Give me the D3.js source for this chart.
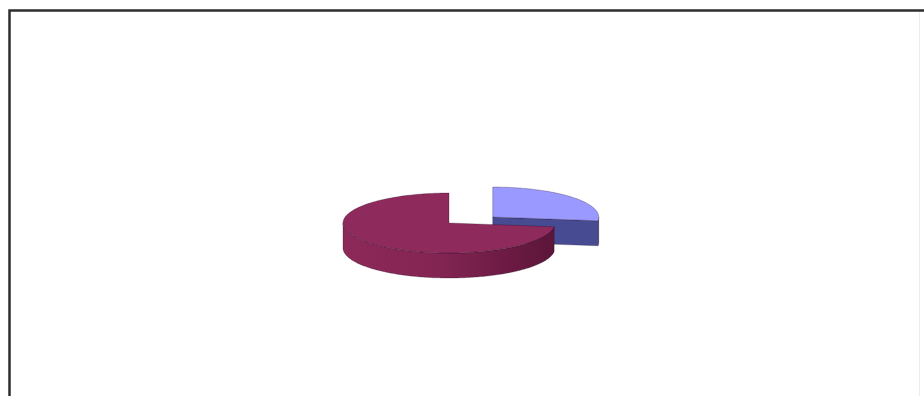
<!DOCTYPE html>
<html>
<head>
<meta charset="utf-8">
<script src="https://cdn.jsdelivr.net/npm/d3@7"></script>
<style>
  html, body { margin: 0; padding: 0; background: #fff; }
  svg { display: block; }
</style>
</head>
<body>
<svg></svg>
<script>
// slice data, clockwise from 12 o'clock
var categories = ["Series A", "Series B"];
var values = [27, 73];
var exploded = [true, false];

// size of the picture
var svgWidth = 924, svgHeight = 396;

// pie geometry
var cx = 449, cy = 223;
var rx = 106, ry = 30, depth = 25;
var explodeX = 0.55, explodeY = 0.3;

var topColors = ["#9999ff", "#8f2a5c"];
var sideColors = ["#4a4e98", "url(#maroonSide)"];
var faceColors = ["#474b92", "#6e1c45"];

var svg = d3.select("svg")
    .attr("width", svgWidth)
    .attr("height", svgHeight);

// gradient for the curved side of the big slice
var grad = svg.append("defs").append("linearGradient")
    .attr("id", "maroonSide")
    .attr("gradientUnits", "userSpaceOnUse")
    .attr("x1", cx - rx).attr("x2", cx + rx)
    .attr("y1", 0).attr("y2", 0);
grad.append("stop").attr("offset", "0%").attr("stop-color", "#8c2959");
grad.append("stop").attr("offset", "45%").attr("stop-color", "#832553");
grad.append("stop").attr("offset", "80%").attr("stop-color", "#6a1a42");
grad.append("stop").attr("offset", "100%").attr("stop-color", "#5c1539");

// chart frame
svg.append("path")
    .attr("d", "M9.5," + svgHeight + "V10.5H" + svgWidth)
    .attr("fill", "none")
    .attr("stroke", "#2e2e2e")
    .attr("stroke-width", 2.5);
svg.append("line")
    .attr("x1", 919.5).attr("x2", 919.5)
    .attr("y1", 12).attr("y2", svgHeight)
    .attr("stroke", "#ececec")
    .attr("stroke-width", 1);

var pie = d3.pie().sort(null).startAngle(0).endAngle(2 * Math.PI);
var arcs = pie(values);

var line = d3.line();

function rimPoint(c, a, dz) {
    return [c[0] + rx * Math.sin(a), c[1] - ry * Math.cos(a) + dz];
}

function rimPoints(c, a0, a1, dz) {
    var pts = [];
    var n = Math.max(2, Math.ceil((a1 - a0) / 0.02));
    for (var i = 0; i <= n; i++) {
        pts.push(rimPoint(c, a0 + (a1 - a0) * i / n, dz));
    }
    return pts;
}

var g = svg.append("g")
    .attr("stroke", "rgba(30,10,30,0.45)")
    .attr("stroke-width", 0.6)
    .attr("stroke-linejoin", "round");

arcs.forEach(function(d, i) {
    var mid = (d.startAngle + d.endAngle) / 2;
    var c = [cx, cy];
    if (exploded[i]) {
        c = [cx + explodeX * rx * Math.sin(mid), cy - explodeY * ry * Math.cos(mid)];
    }
    var slice = g.append("g").attr("class", "slice").datum(d);

    // curved outer wall, only the part facing the viewer
    var w0 = Math.max(d.startAngle, Math.PI / 2);
    var w1 = Math.min(d.endAngle, 3 * Math.PI / 2);
    if (w1 > w0) {
        var pts = rimPoints(c, w0, w1, 0)
            .concat(rimPoints(c, w0, w1, depth).reverse());
        slice.append("path")
            .attr("d", line(pts) + "Z")
            .attr("fill", sideColors[i]);
    }

    // flat cut faces that point towards the viewer
    [[d.endAngle, Math.sin(d.endAngle) > 0.01],
     [d.startAngle, Math.sin(d.startAngle) < -0.01]].forEach(function(f) {
        if (!f[1]) return;
        var p = rimPoint(c, f[0], 0);
        var pts = [c, p, [p[0], p[1] + depth], [c[0], c[1] + depth]];
        slice.append("path")
            .attr("d", line(pts) + "Z")
            .attr("fill", faceColors[i]);
    });

    // top face
    var top = [c].concat(rimPoints(c, d.startAngle, d.endAngle, 0));
    slice.append("path")
        .attr("d", line(top) + "Z")
        .attr("fill", topColors[i])
        .append("title").text(categories[i] + ": " + values[i]);
});
</script>
</body>
</html>
